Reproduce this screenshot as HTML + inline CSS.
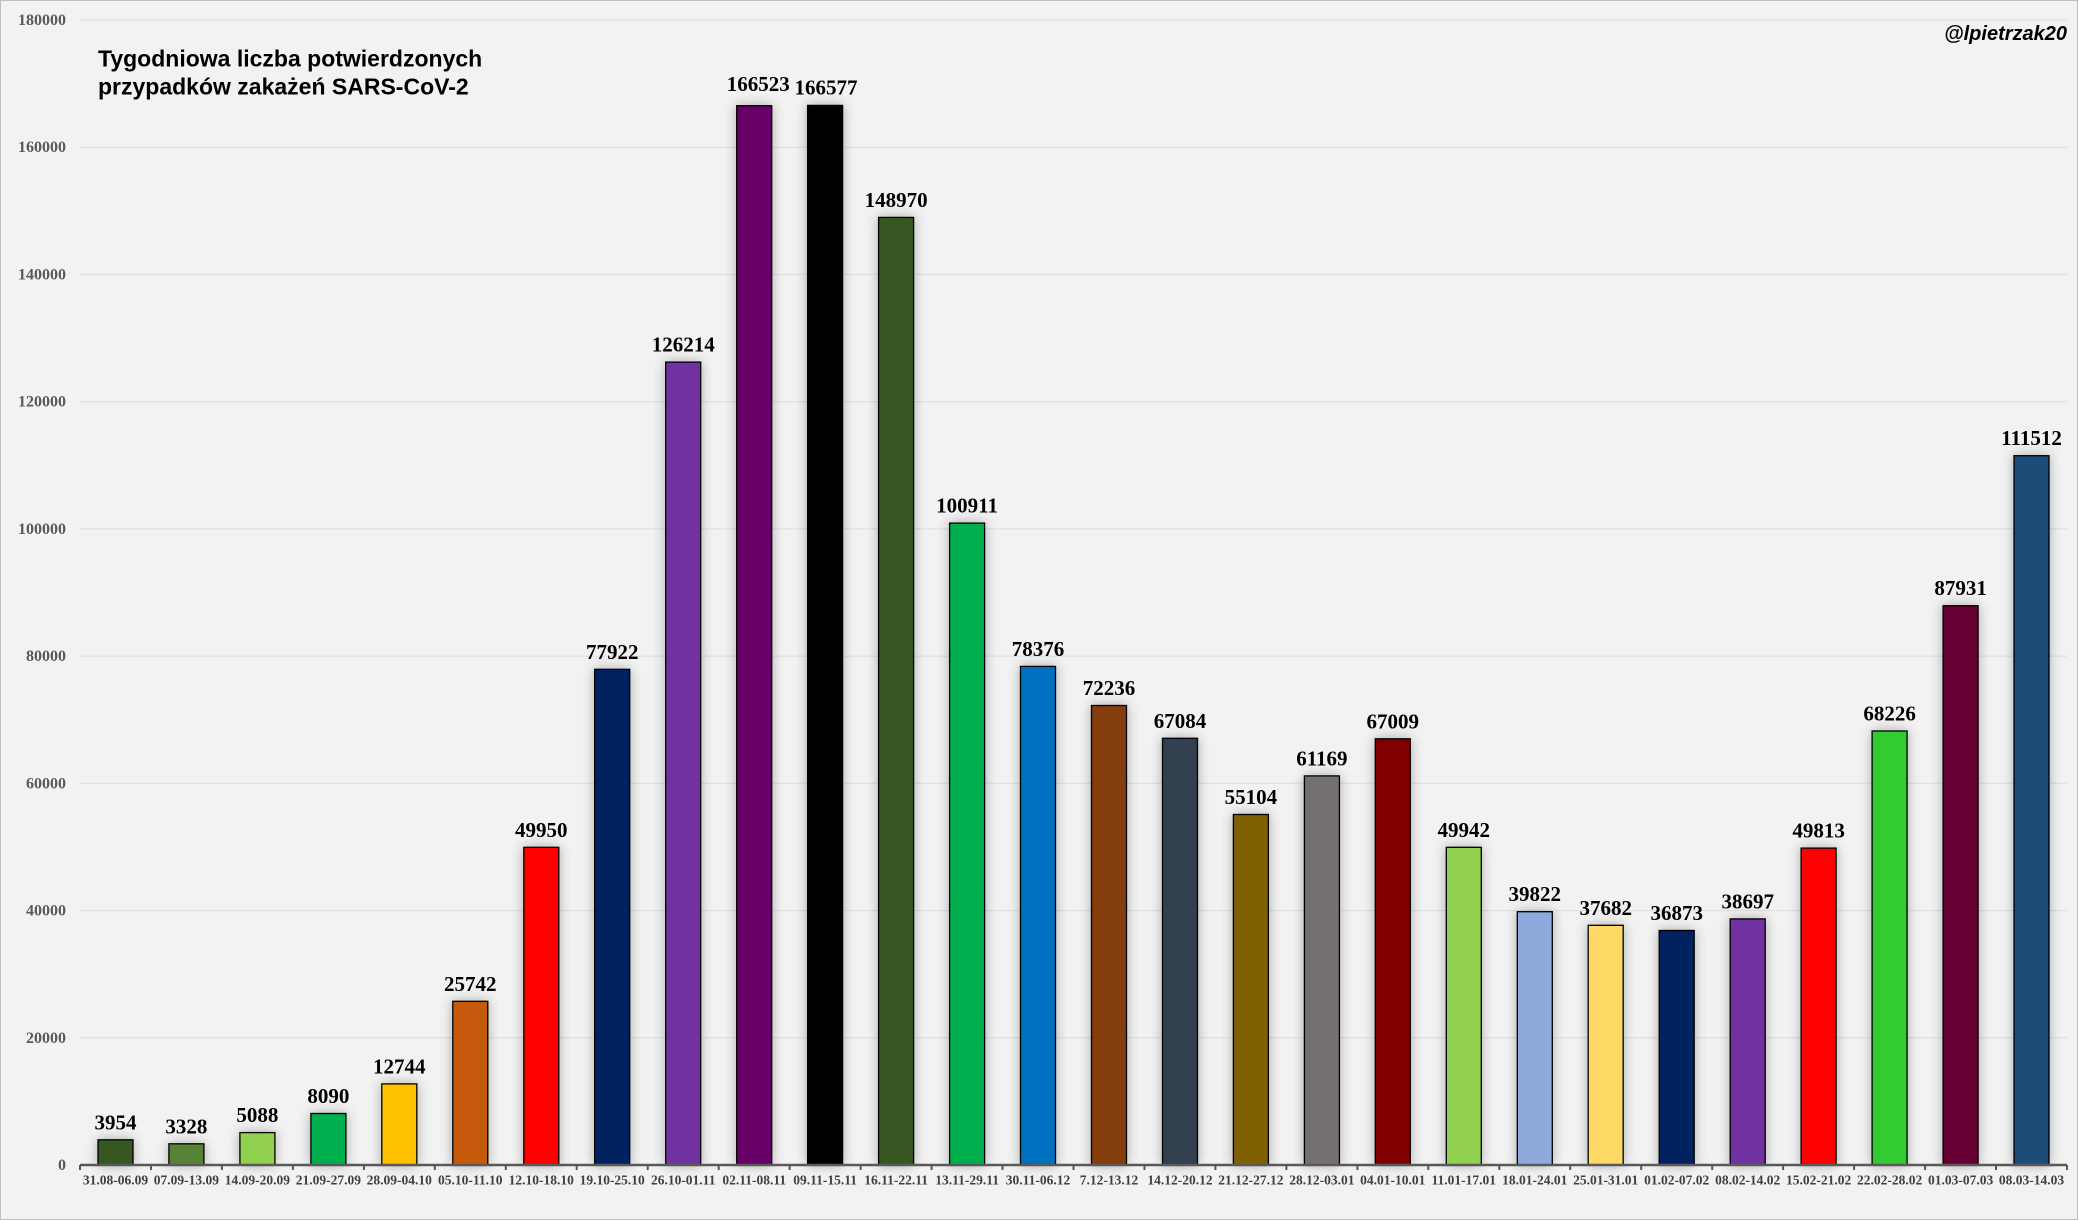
<!DOCTYPE html>
<html><head><meta charset="utf-8"><style>
html,body{margin:0;padding:0;background:#fff;}
svg{display:block;}
.yl{font-family:"Liberation Serif",serif;font-weight:bold;font-size:16px;fill:#595959;text-anchor:end;}
.xl{font-family:"Liberation Serif",serif;font-weight:bold;font-size:13.5px;fill:#404040;text-anchor:middle;}
.vl{font-family:"Liberation Serif",serif;font-weight:bold;font-size:21px;fill:#000;text-anchor:middle;}
</style></head><body>
<svg width="2079" height="1221" viewBox="0 0 2079 1221" xmlns="http://www.w3.org/2000/svg">
<defs>
<filter id="sh" x="-60%" y="-10%" width="220%" height="120%">
<feGaussianBlur in="SourceAlpha" stdDeviation="6"/>
<feComponentTransfer><feFuncA type="linear" slope="0.3"/></feComponentTransfer>
<feMerge><feMergeNode/><feMergeNode in="SourceGraphic"/></feMerge>
</filter>
</defs>
<rect x="0.5" y="0.5" width="2077" height="1219" fill="#f2f2f2" stroke="#bfbfbf" stroke-width="1"/>
<g stroke="#d9dce5" stroke-width="1">
<line x1="80" x2="2067" y1="1037.8" y2="1037.8"/>
<line x1="80" x2="2067" y1="910.6" y2="910.6"/>
<line x1="80" x2="2067" y1="783.3" y2="783.3"/>
<line x1="80" x2="2067" y1="656.1" y2="656.1"/>
<line x1="80" x2="2067" y1="528.9" y2="528.9"/>
<line x1="80" x2="2067" y1="401.7" y2="401.7"/>
<line x1="80" x2="2067" y1="274.4" y2="274.4"/>
<line x1="80" x2="2067" y1="147.2" y2="147.2"/>
<line x1="80" x2="2067" y1="20" y2="20"/>
</g>
<g>
<text class="yl" x="66" y="1170">0</text>
<text class="yl" x="66" y="1042.8">20000</text>
<text class="yl" x="66" y="915.6">40000</text>
<text class="yl" x="66" y="788.3">60000</text>
<text class="yl" x="66" y="661.1">80000</text>
<text class="yl" x="66" y="533.9">100000</text>
<text class="yl" x="66" y="406.7">120000</text>
<text class="yl" x="66" y="279.4">140000</text>
<text class="yl" x="66" y="152.2">160000</text>
<text class="yl" x="66" y="25">180000</text>
</g>
<text x="98" y="66.7" font-family="Liberation Sans, sans-serif" font-weight="bold" font-size="23" fill="#000">Tygodniowa liczba potwierdzonych</text>
<text x="98" y="94.3" font-family="Liberation Sans, sans-serif" font-weight="bold" font-size="23" fill="#000">przypadków zakażeń SARS-CoV-2</text>
<text x="2067" y="40" text-anchor="end" font-family="Liberation Sans, sans-serif" font-weight="bold" font-style="italic" font-size="20" fill="#000">@lpietrzak20</text>
<g filter="url(#sh)" stroke="#000" stroke-width="1.3">
<rect x="98" y="1139.8" width="35" height="25.2" fill="#375623"/>
<rect x="168.9" y="1143.8" width="35" height="21.2" fill="#548235"/>
<rect x="239.9" y="1132.6" width="35" height="32.4" fill="#92D050"/>
<rect x="310.9" y="1113.5" width="35" height="51.5" fill="#00B050"/>
<rect x="381.8" y="1083.9" width="35" height="81.1" fill="#FFC000"/>
<rect x="452.8" y="1001.3" width="35" height="163.7" fill="#C55A11"/>
<rect x="523.8" y="847.3" width="35" height="317.7" fill="#FF0000"/>
<rect x="594.7" y="669.3" width="35" height="495.7" fill="#002060"/>
<rect x="665.7" y="362.1" width="35" height="802.9" fill="#7030A0"/>
<rect x="736.7" y="105.7" width="35" height="1059.3" fill="#660066"/>
<rect x="807.6" y="105.4" width="35" height="1059.6" fill="#000000"/>
<rect x="878.6" y="217.4" width="35" height="947.6" fill="#375623"/>
<rect x="949.6" y="523.1" width="35" height="641.9" fill="#00B050"/>
<rect x="1020.5" y="666.4" width="35" height="498.6" fill="#0070C0"/>
<rect x="1091.5" y="705.5" width="35" height="459.5" fill="#843C0C"/>
<rect x="1162.5" y="738.3" width="35" height="426.7" fill="#333F50"/>
<rect x="1233.4" y="814.5" width="35" height="350.5" fill="#7F6000"/>
<rect x="1304.4" y="775.9" width="35" height="389.1" fill="#767171"/>
<rect x="1375.3" y="738.8" width="35" height="426.2" fill="#800000"/>
<rect x="1446.3" y="847.3" width="35" height="317.7" fill="#92D050"/>
<rect x="1517.3" y="911.7" width="35" height="253.3" fill="#8EA9DB"/>
<rect x="1588.2" y="925.3" width="35" height="239.7" fill="#FFD966"/>
<rect x="1659.2" y="930.5" width="35" height="234.5" fill="#002060"/>
<rect x="1730.2" y="918.9" width="35" height="246.1" fill="#7030A0"/>
<rect x="1801.1" y="848.1" width="35" height="316.9" fill="#FF0000"/>
<rect x="1872.1" y="731" width="35" height="434" fill="#33CC33"/>
<rect x="1943.1" y="605.7" width="35" height="559.3" fill="#660033"/>
<rect x="2014" y="455.7" width="35" height="709.3" fill="#1F4E79"/>
</g>
<g>
<text class="vl" x="115.5" y="1129.3">3954</text>
<text class="vl" x="186.4" y="1133.3">3328</text>
<text class="vl" x="257.4" y="1122.1">5088</text>
<text class="vl" x="328.4" y="1103">8090</text>
<text class="vl" x="399.3" y="1073.4">12744</text>
<text class="vl" x="470.3" y="990.8">25742</text>
<text class="vl" x="541.3" y="836.8">49950</text>
<text class="vl" x="612.2" y="658.8">77922</text>
<text class="vl" x="683.2" y="351.6">126214</text>
<text class="vl" x="758.3" y="91">166523</text>
<text class="vl" x="826" y="94.5">166577</text>
<text class="vl" x="896.1" y="206.9">148970</text>
<text class="vl" x="967.1" y="512.6">100911</text>
<text class="vl" x="1038" y="655.9">78376</text>
<text class="vl" x="1109" y="695">72236</text>
<text class="vl" x="1180" y="727.8">67084</text>
<text class="vl" x="1250.9" y="804">55104</text>
<text class="vl" x="1321.9" y="765.4">61169</text>
<text class="vl" x="1392.8" y="728.3">67009</text>
<text class="vl" x="1463.8" y="836.8">49942</text>
<text class="vl" x="1534.8" y="901.2">39822</text>
<text class="vl" x="1605.7" y="914.8">37682</text>
<text class="vl" x="1676.7" y="920">36873</text>
<text class="vl" x="1747.7" y="908.4">38697</text>
<text class="vl" x="1818.6" y="837.6">49813</text>
<text class="vl" x="1889.6" y="720.5">68226</text>
<text class="vl" x="1960.6" y="595.2">87931</text>
<text class="vl" x="2031.5" y="445.2">111512</text>
</g>
<line x1="80" x2="2067" y1="1165" y2="1165" stroke="#595959" stroke-width="2.5"/>
<g stroke="#595959" stroke-width="2">
<line x1="80" x2="80" y1="1165" y2="1170"/>
<line x1="151" x2="151" y1="1165" y2="1170"/>
<line x1="221.9" x2="221.9" y1="1165" y2="1170"/>
<line x1="292.9" x2="292.9" y1="1165" y2="1170"/>
<line x1="363.9" x2="363.9" y1="1165" y2="1170"/>
<line x1="434.8" x2="434.8" y1="1165" y2="1170"/>
<line x1="505.8" x2="505.8" y1="1165" y2="1170"/>
<line x1="576.7" x2="576.7" y1="1165" y2="1170"/>
<line x1="647.7" x2="647.7" y1="1165" y2="1170"/>
<line x1="718.7" x2="718.7" y1="1165" y2="1170"/>
<line x1="789.6" x2="789.6" y1="1165" y2="1170"/>
<line x1="860.6" x2="860.6" y1="1165" y2="1170"/>
<line x1="931.6" x2="931.6" y1="1165" y2="1170"/>
<line x1="1002.5" x2="1002.5" y1="1165" y2="1170"/>
<line x1="1073.5" x2="1073.5" y1="1165" y2="1170"/>
<line x1="1144.5" x2="1144.5" y1="1165" y2="1170"/>
<line x1="1215.4" x2="1215.4" y1="1165" y2="1170"/>
<line x1="1286.4" x2="1286.4" y1="1165" y2="1170"/>
<line x1="1357.4" x2="1357.4" y1="1165" y2="1170"/>
<line x1="1428.3" x2="1428.3" y1="1165" y2="1170"/>
<line x1="1499.3" x2="1499.3" y1="1165" y2="1170"/>
<line x1="1570.2" x2="1570.2" y1="1165" y2="1170"/>
<line x1="1641.2" x2="1641.2" y1="1165" y2="1170"/>
<line x1="1712.2" x2="1712.2" y1="1165" y2="1170"/>
<line x1="1783.1" x2="1783.1" y1="1165" y2="1170"/>
<line x1="1854.1" x2="1854.1" y1="1165" y2="1170"/>
<line x1="1925.1" x2="1925.1" y1="1165" y2="1170"/>
<line x1="1996" x2="1996" y1="1165" y2="1170"/>
<line x1="2067" x2="2067" y1="1165" y2="1170"/>
</g>
<g>
<text class="xl" x="115.5" y="1184.5">31.08-06.09</text>
<text class="xl" x="186.4" y="1184.5">07.09-13.09</text>
<text class="xl" x="257.4" y="1184.5">14.09-20.09</text>
<text class="xl" x="328.4" y="1184.5">21.09-27.09</text>
<text class="xl" x="399.3" y="1184.5">28.09-04.10</text>
<text class="xl" x="470.3" y="1184.5">05.10-11.10</text>
<text class="xl" x="541.3" y="1184.5">12.10-18.10</text>
<text class="xl" x="612.2" y="1184.5">19.10-25.10</text>
<text class="xl" x="683.2" y="1184.5">26.10-01.11</text>
<text class="xl" x="754.2" y="1184.5">02.11-08.11</text>
<text class="xl" x="825.1" y="1184.5">09.11-15.11</text>
<text class="xl" x="896.1" y="1184.5">16.11-22.11</text>
<text class="xl" x="967.1" y="1184.5">13.11-29.11</text>
<text class="xl" x="1038" y="1184.5">30.11-06.12</text>
<text class="xl" x="1109" y="1184.5">7.12-13.12</text>
<text class="xl" x="1180" y="1184.5">14.12-20.12</text>
<text class="xl" x="1250.9" y="1184.5">21.12-27.12</text>
<text class="xl" x="1321.9" y="1184.5">28.12-03.01</text>
<text class="xl" x="1392.8" y="1184.5">04.01-10.01</text>
<text class="xl" x="1463.8" y="1184.5">11.01-17.01</text>
<text class="xl" x="1534.8" y="1184.5">18.01-24.01</text>
<text class="xl" x="1605.7" y="1184.5">25.01-31.01</text>
<text class="xl" x="1676.7" y="1184.5">01.02-07.02</text>
<text class="xl" x="1747.7" y="1184.5">08.02-14.02</text>
<text class="xl" x="1818.6" y="1184.5">15.02-21.02</text>
<text class="xl" x="1889.6" y="1184.5">22.02-28.02</text>
<text class="xl" x="1960.6" y="1184.5">01.03-07.03</text>
<text class="xl" x="2031.5" y="1184.5">08.03-14.03</text>
</g>
</svg>
</body></html>
